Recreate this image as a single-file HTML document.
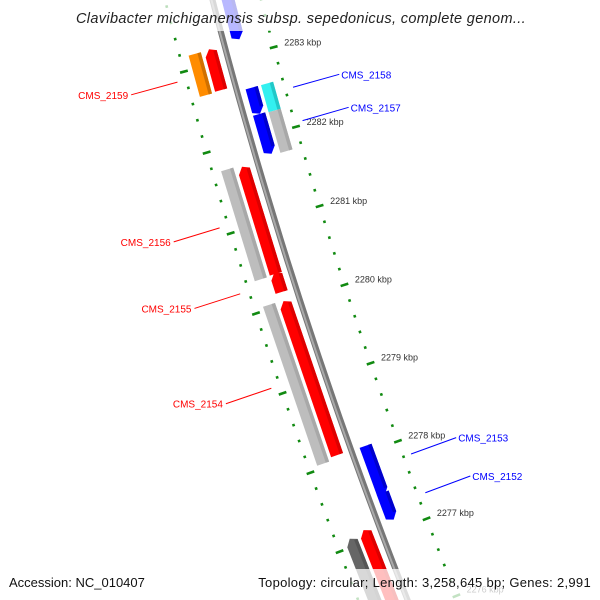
<!DOCTYPE html>
<html><head><meta charset="utf-8"><style>
html,body{margin:0;padding:0;background:#fff;width:600px;height:600px;overflow:hidden;}
svg{display:block;font-family:"Liberation Sans","DejaVu Sans",sans-serif;}
</style></head><body>
<svg id="map" width="600" height="600" viewBox="0 0 600 600" xmlns="http://www.w3.org/2000/svg" overflow="hidden">
<g id="ticks"></g>
<g id="backbone"></g>
<g id="features"></g>
<g id="labels"></g>
<rect x="0" y="0" width="600" height="31" fill="#fff" opacity="0.72"/>
<text x="301" y="23" text-anchor="middle" font-size="14.5" font-style="italic" fill="#222" letter-spacing="0.35">Clavibacter michiganensis subsp. sepedonicus, complete genom...</text>
<rect x="0" y="569" width="600" height="31" fill="#fff" opacity="0.75"/>
<text x="9" y="587" font-size="13" fill="#111">Accession: NC_010407</text>
<text x="591" y="587" text-anchor="end" font-size="13" fill="#111" letter-spacing="0.3">Topology: circular; Length: 3,258,645 bp; Genes: 2,991</text>
</svg>
<script>
// data
const tickKbp = [2284, 2283, 2282, 2281, 2280, 2279, 2278, 2277, 2276];
const tickLabels = ["2284 kbp","2283 kbp","2282 kbp","2281 kbp","2280 kbp","2279 kbp","2278 kbp","2277 kbp","2276 kbp"];
const featStart = [2283.2, 2282.66, 2282.67, 2282.27, 2281.77, 2282.26, 2281.75, 2280.37, 2280.38, 2280.15, 2278.05, 2278.09, 2277.44, 2277.13, 2275.5, 2275.5];
const featEnd   = [2284.2, 2283.17, 2283.18, 2282.6, 2282.27, 2282.6, 2282.26, 2281.74, 2281.72, 2280.40, 2280.05, 2280.04, 2278.08, 2277.48, 2277.10, 2277.14];
const featLane  = [1, -2, -1, 1, 1, 2, 2, -2, -1, -1, -2, -1, 1, 1, -2, -1];
const featType  = ["cds","other","cds","cds","cds","hit","gray","gray","cds","cds","gray","cds","cds","cds","dark","cds"];
const labelNames = ["CMS_2159","CMS_2158","CMS_2157","CMS_2156","CMS_2155","CMS_2154","CMS_2153","CMS_2152"];
const labelKbp = [2282.9, 2282.47, 2282.05, 2281.1, 2280.28, 2279.1, 2277.8, 2277.3];
const labelSide = [-1, 1, 1, -1, -1, -1, 1, 1];

const NS="http://www.w3.org/2000/svg";
const CX=5251, CY=-1306, R=5205;
function P(kbp, off){
  const phi=(160.20+(kbp-2278)*0.918)*Math.PI/180;
  const r=R-off;
  return [CX+r*Math.cos(phi), CY+r*Math.sin(phi)];
}
function mk(tag, attrs, parent){
  const e=document.createElementNS(NS,tag);
  for(const k in attrs) e.setAttribute(k, attrs[k]);
  parent.appendChild(e); return e;
}
function pts(a){return a.map(p=>p[0].toFixed(1)+","+p[1].toFixed(1)).join(" ");}

// ticks
const tg=document.getElementById('ticks');
const kmin=tickKbp[tickKbp.length-1], kmax=tickKbp[0];
for(let i=Math.round(kmin*5); i<=Math.round(kmax*5); i++){
  const k=i/5, major=(i%5===0);
  [47,-46].forEach(function(o){
    const len=major?4:1.3;
    const a=P(k,o-len), b=P(k,o+len);
    const l=mk('line',{x1:a[0],y1:a[1],x2:b[0],y2:b[1],stroke:'#118a11','stroke-width':2.6},tg);
    
    
  });
}
tickKbp.forEach(function(k,i){
  const p=P(k,58);
  const t=mk('text',{x:p[0],y:p[1]+1,'font-size':9,fill:'#333'},tg);
  t.textContent=tickLabels[i];
  
  
});

// backbone
const bg=document.getElementById('backbone');
const bb=[];for(let k=2285;k>=2275;k-=0.25) bb.push(P(k,0));
let e=mk('polyline',{points:pts(bb),fill:'none',stroke:'#777','stroke-width':6},bg);


const bb2=[];for(let k=2285;k>=2275;k-=0.25) bb2.push(P(k,-1));
e=mk('polyline',{points:pts(bb2),fill:'none',stroke:'#aaa','stroke-width':2},bg);



// features
const colors={cds:null,other:['#ff8c00','#d07000'],hit:['#33f0f0','#22c8c8'],gray:['#bdbdbd','#a8a8a8'],dark:['#666','#555']};
const fg=document.getElementById('features');
featStart.forEach(function(s,i){
  const en=featEnd[i], lane=featLane[i], type=featType[i];
  const center=lane>0?(lane===1?15:31):(lane===-1?-15:-31);
  const w=6.3;
  const o1=center-w, o2=center+w;
  let c=colors[type];
  if(!c) c = lane>0?['#0000ff','#0000cc']:['#ff0000','#dd0000'];
  const ah=0.085;
  const arrow=(type==='cds'||type==='dark');
  let poly;
  if(arrow){
    if(lane>0){
      poly=[P(en,o1),P(en,o2),P(s+ah,o2),P(s,center+1),P(s+ah*0.4,o1)];
    }else{
      poly=[P(s,o1),P(s,o2),P(en-ah*0.4,o2),P(en,center-1),P(en-ah,o1)];
    }
  }else{
    poly=[P(s,o1),P(s,o2),P(en,o2),P(en,o1)];
  }
  const f=mk('polygon',{points:pts(poly),fill:c[0]},fg);
  
  
  const so=o2-3.5;
  const s2=s+(lane>0&&arrow?ah:0), e2=en-(lane<0&&arrow?ah*0.4:0);
  const sp=[P(s2,so),P(s2,o2),P(e2,o2),P(e2,so)];
  const st=mk('polygon',{points:pts(sp),fill:c[1]},fg);
  
  
});

// labels
const lg=document.getElementById('labels');
labelNames.forEach(function(n,i){
  const side=labelSide[i], k=labelKbp[i];
  const col=side>0?'#0000ff':'#ff0000';
  const a=P(k, side>0?55:-55), b=P(k, side>0?103:-103);
  const l=mk('line',{x1:a[0],y1:a[1],x2:b[0],y2:b[1],stroke:col,'stroke-width':1},lg);
  
  
  const t=mk('text',{x:side>0?b[0]+2:b[0]-3,y:b[1]+4,'font-size':10,fill:col,'text-anchor':side>0?'start':'end'},lg);
  t.textContent=n;
  
  
});
</script>
</body></html>
